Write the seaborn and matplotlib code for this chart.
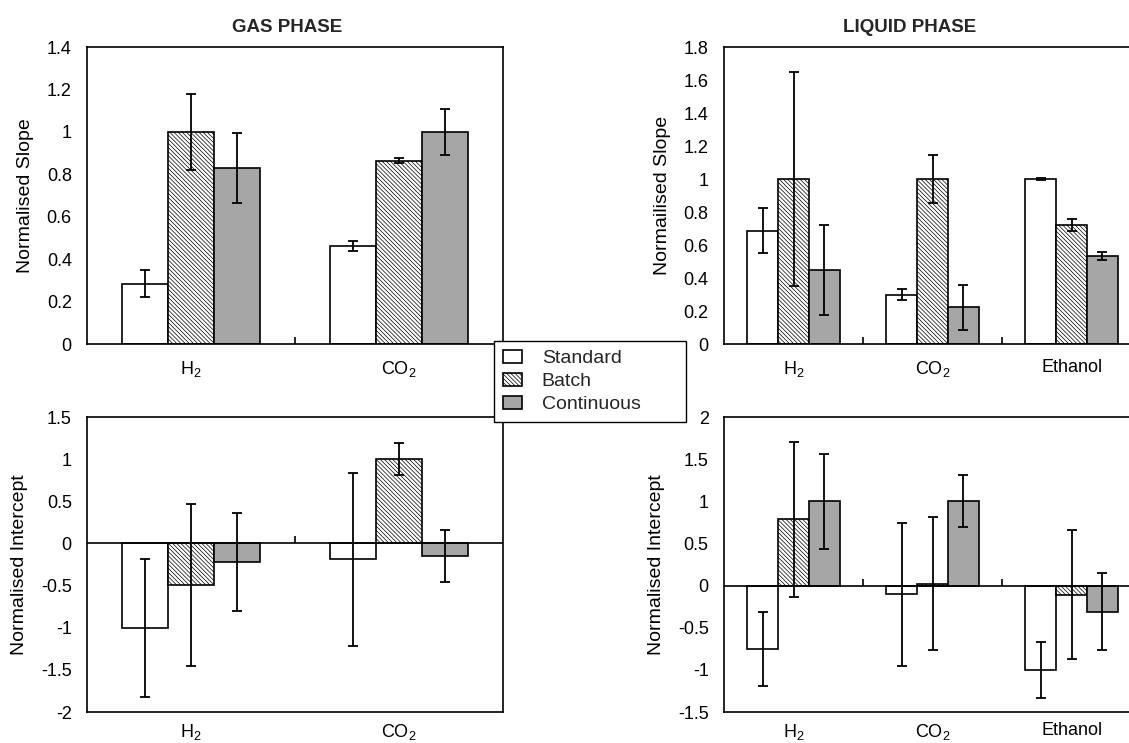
import numpy as np
import pandas as pd
import seaborn as sns
import matplotlib.pyplot as plt
from matplotlib.patches import Patch
from matplotlib.ticker import FuncFormatter

series = ['Standard', 'Batch', 'Continuous']
gas_cats = ['H$_2$', 'CO$_2$']
liq_cats = ['H$_2$', 'CO$_2$', 'Ethanol']

# values per series (Standard, Batch, Continuous), one entry per category
gas_slope = [[0.284, 0.463], [1.0, 0.865], [0.83, 1.0]]
gas_slope_err = [[0.064, 0.023], [0.18, 0.012], [0.163, 0.108]]

liq_slope = [[0.687, 0.30, 1.0], [1.0, 1.0, 0.719], [0.448, 0.222, 0.533]]
liq_slope_err = [[0.137, 0.033, 0.008], [0.647, 0.148, 0.036], [0.275, 0.135, 0.023]]

gas_int = [[-1.0, -0.19], [-0.494, 1.0], [-0.221, -0.15]]
gas_int_err = [[0.82, 1.025], [0.965, 0.19], [0.585, 0.31]]

liq_int = [[-0.757, -0.103, -1.0], [0.785, 0.024, -0.107], [1.0, 1.0, -0.308]]
liq_int_err = [[0.438, 0.846, 0.335], [0.915, 0.789, 0.762], [0.562, 0.308, 0.455]]

colors = {'Standard': 'white', 'Batch': 'white', 'Continuous': '#a6a6a6'}
hatches = {'Standard': '', 'Batch': '\\' * 8, 'Continuous': ''}

sns.set_theme(style='white')
plt.rcParams['font.family'] = ['Liberation Sans', 'DejaVu Sans']
plt.rcParams['mathtext.default'] = 'regular'
plt.rcParams['axes.unicode_minus'] = False
plt.rcParams['hatch.linewidth'] = 0.5
plt.rcParams['hatch.color'] = '#444444'


def to_frame(cats, vals):
    rows = []
    for s, v in zip(series, vals):
        for c, y in zip(cats, v):
            rows.append({'cat': c, 'val': y, 'series': s})
    return pd.DataFrame(rows)


def draw_panel(ax, cats, vals, errs, ylim, yticks, ylabel, title=None, title_x=0.5,
               zero_line=False, xpad=11):
    df = to_frame(cats, vals)
    sns.barplot(data=df, x='cat', y='val', hue='series', order=cats, hue_order=series,
                palette=colors, saturation=1, width=0.667, edgecolor='black',
                linewidth=1.2, errorbar=None, legend=False, ax=ax)
    for s, cont, err in zip(series, ax.containers, errs):
        for bar, e in zip(cont, err):
            bar.set_hatch(hatches[s])
            x = bar.get_x() + bar.get_width() / 2
            y = bar.get_y() + bar.get_height()
            ax.errorbar(x, y, yerr=e, fmt='none', ecolor='black', elinewidth=1.3,
                        capsize=3.5, capthick=1.3, zorder=5)
    if zero_line:
        ax.axhline(0, color='black', lw=1.2, zorder=4)
    seps = np.arange(len(cats) - 1) + 0.5
    ax.plot(seps, np.zeros_like(seps), ls='none', marker=2, ms=5, mew=1.2, color='black', zorder=4)
    ax.set_xlim(-0.5, len(cats) - 0.5)
    ax.set_ylim(*ylim)
    ax.set_yticks(yticks)
    ax.yaxis.set_major_formatter(FuncFormatter(lambda v, p: '%g' % round(v, 2)))
    ax.tick_params(axis='y', direction='in', length=4, width=1, pad=11, labelsize=13, colors='black')
    ax.tick_params(axis='x', length=0, pad=xpad, labelsize=13, colors='black')
    ax.set_xlabel('')
    ax.set_ylabel(ylabel, fontsize=14, labelpad=9, color='black')
    for sp in ax.spines.values():
        sp.set_visible(True)
        sp.set_color('black')
        sp.set_linewidth(1.2)
    if title:
        ax.set_title(title, fontsize=13.5, fontweight='bold', pad=11, x=title_x)


fig = plt.figure(figsize=(11.29, 7.43), dpi=100)
ax1 = fig.add_axes([0.0771, 0.537, 0.3685, 0.3997])
ax2 = fig.add_axes([0.6413, 0.537, 0.3694, 0.3997])
ax3 = fig.add_axes([0.0771, 0.0417, 0.3685, 0.397])
ax4 = fig.add_axes([0.6413, 0.0417, 0.3694, 0.397])

draw_panel(ax1, gas_cats, gas_slope, gas_slope_err, (0, 1.4), np.arange(0, 1.41, 0.2),
           'Normalised Slope', 'GAS PHASE', title_x=0.48)
draw_panel(ax2, liq_cats, liq_slope, liq_slope_err, (0, 1.8), np.arange(0, 1.81, 0.2),
           'Normailised Slope', 'LIQUID PHASE', title_x=0.445)
draw_panel(ax3, gas_cats, gas_int, gas_int_err, (-2, 1.5), np.arange(-2, 1.51, 0.5),
           'Normalised Intercept', zero_line=True, xpad=7)
draw_panel(ax4, liq_cats, liq_int, liq_int_err, (-1.5, 2), np.arange(-1.5, 2.01, 0.5),
           'Normalised Intercept', zero_line=True, xpad=7)

handles = [Patch(facecolor=colors[s], edgecolor='black', hatch=hatches[s], linewidth=1.2) for s in series]
leg = fig.legend(handles, series, loc='center', bbox_to_anchor=(0.4376, 0.4293, 0.17, 0.1144),
                 mode='expand', fontsize=14, frameon=True, fancybox=False, framealpha=1,
                 edgecolor='black', handlelength=1.0, handleheight=0.65, handletextpad=1.0,
                 labelspacing=0.3, borderpad=0.45, borderaxespad=0)
leg.get_frame().set_linewidth(1.0)
leg.set_zorder(10)

fig.savefig('out.png', dpi=100)
